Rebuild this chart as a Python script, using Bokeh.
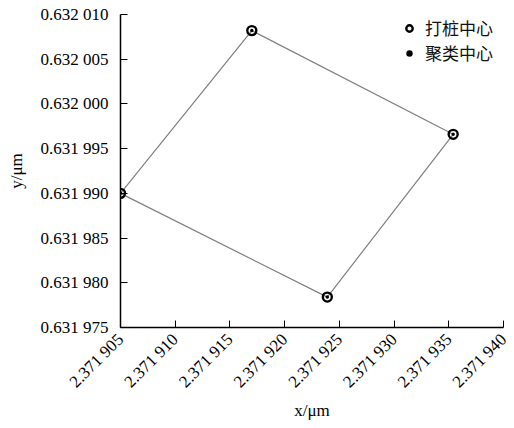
import math
from bokeh.plotting import figure
from bokeh.models import (ColumnDataSource, Range1d, FixedTicker, CustomJSTickFormatter,
                          Legend, LegendItem)
from bokeh.embed import file_html
from bokeh.resources import INLINE

# pile centres (µm) and their cluster centres
pile_x = [2.371905, 2.371917, 2.3719354, 2.3719239]
pile_y = [0.631990, 0.6320082, 0.6319966, 0.6319784]
cluster_x = [2.371905, 2.371917, 2.3719354, 2.3719239]
cluster_y = [0.631990, 0.6320082, 0.6319966, 0.6319784]

x_ticks = [2.371905, 2.371910, 2.371915, 2.371920, 2.371925, 2.371930, 2.371935, 2.371940]
y_ticks = [0.631975, 0.631980, 0.631985, 0.631990, 0.631995, 0.632000, 0.632005, 0.632010]

legend_labels = ["打桩中心", "聚类中心"]
x_title = "x/μm"
y_title = "y/μm"

SERIF = "Liberation Serif"
CJK = "Noto Sans CJK SC"

p = figure(width=514, height=428, output_backend="svg", toolbar_location=None,
           x_range=Range1d(x_ticks[0], x_ticks[-1]),
           y_range=Range1d(y_ticks[0], y_ticks[-1]),
           min_border_left=120, min_border_right=11,
           min_border_top=14, min_border_bottom=101)
p.outline_line_color = None
p.grid.visible = False
p.background_fill_color = "white"
p.border_fill_color = "white"

# thousands-style grouping of the decimals: 0.632 010
fmt = CustomJSTickFormatter(code="""
    const s = tick.toFixed(6);
    return s.slice(0, -3) + ' ' + s.slice(-3);
""")

for ax, ticks in ((p.xaxis[0], x_ticks), (p.yaxis[0], y_ticks)):
    ax.ticker = FixedTicker(ticks=ticks)
    ax.formatter = fmt
    ax.major_tick_in = 7
    ax.major_tick_out = 0
    ax.minor_tick_line_color = None
    ax.axis_line_color = "black"
    ax.axis_line_width = 1.5
    ax.major_tick_line_color = "black"
    ax.major_label_text_font = SERIF
    ax.major_label_text_font_size = "17px"
    ax.major_label_text_color = "black"
    ax.axis_label_text_font = SERIF
    ax.axis_label_text_font_size = "17px"
    ax.axis_label_text_font_style = "normal"
    ax.axis_label_text_color = "black"

p.xaxis[0].axis_label = x_title
p.yaxis[0].axis_label = y_title
p.yaxis[0].major_label_standoff = 12
p.yaxis[0].axis_label_standoff = 12
p.xaxis[0].major_label_orientation = math.pi / 4
p.xaxis[0].major_label_standoff = 9
p.xaxis[0].axis_label_standoff = 0

# outline of the four piles
ring_x = pile_x + [pile_x[0]]
ring_y = pile_y + [pile_y[0]]
p.line(ring_x, ring_y, line_color="#7f7f7f", line_width=1.2)

src_p = ColumnDataSource(dict(x=pile_x, y=pile_y))
src_c = ColumnDataSource(dict(x=cluster_x, y=cluster_y))
r_pile = p.scatter("x", "y", source=src_p, marker="circle", size=9,
                   fill_color=None, line_color="black", line_width=2.4)
r_clu = p.scatter("x", "y", source=src_c, marker="circle", size=3.5,
                  fill_color="black", line_color=None)

legend = Legend(items=[LegendItem(label=legend_labels[0], renderers=[r_pile]),
                       LegendItem(label=legend_labels[1], renderers=[r_clu])],
                location=(281, 262), orientation="vertical")
legend.border_line_color = None
legend.background_fill_alpha = 0
legend.label_text_font = CJK
legend.label_text_font_size = "17px"
legend.label_text_color = "#111111"
legend.glyph_width = 16
legend.glyph_height = 20
legend.label_height = 20
legend.label_standoff = 8
legend.padding = 0
legend.spacing = -5
legend.margin = 0
p.add_layout(legend)

open("out.html", "w").write(file_html(p, INLINE))
